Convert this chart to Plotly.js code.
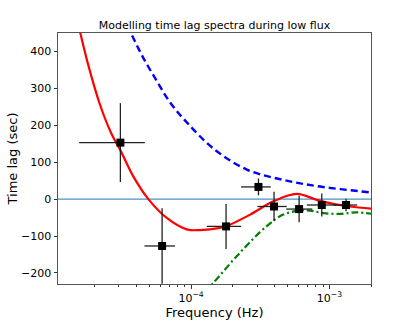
<!DOCTYPE html>
<html>
<head>
<meta charset="utf-8">
<script src="https://cdn.plot.ly/plotly-3.0.1.min.js"></script>
<style>
  html, body { margin: 0; padding: 0; background: white; }
  #plot { width: 413px; height: 331px; }
</style>
</head>
<body>
<div id="plot"></div>
<script>
/* Time lag spectrum, low flux, with model curves */

// observed lags
const freq = [3.08e-5, 6.17e-5, 1.79e-4, 3.07e-4, 3.98e-4, 6.04e-4, 8.81e-4, 1.32e-3];
const freqLo = [1.55e-5, 4.6e-5, 1.30e-4, 2.30e-4, 3.02e-4, 4.87e-4, 6.87e-4, 1.07e-3];
const freqHi = [4.63e-5, 7.66e-5, 2.30e-4, 3.77e-4, 4.92e-4, 7.53e-4, 1.13e-3, 1.59e-3];
const lag = [153, -127, -74, 33, -20, -27, -16, -16];
const lagErr = [107, 102, 61, 23, 40, 36, 31, 17];

// total model (red)
const modelFreq = [1.48e-5, 1.592e-5, 1.799e-5, 2.188e-5, 2.655e-5, 3.083e-5, 3.828e-5, 4.909e-5, 6.668e-5,
  9.311e-5, 1.161e-4, 1.622e-4, 1.811e-4, 2.673e-4, 3.936e-4, 5.808e-4, 8.110e-4, 1.069e-3, 1.413e-3, 2.028e-3];
const modelLag = [495, 445, 365, 257, 177, 132, 61, 0, -51,
  -82, -84, -78, -73, -42, -6, 14, -2, -13, -20, -26];

// hard lag component (blue dashed)
const hardFreq = [3.467e-5, 3.724e-5, 4.519e-5, 5.649e-5, 7.047e-5, 9.311e-5, 1.449e-4, 2.529e-4, 4.645e-4, 8.570e-4, 1.968e-3, 2.05e-3];
const hardLag = [470, 445, 382, 320, 262, 208, 137, 80, 52, 34, 18, 17];

// reverberation component (green dash-dot)
const revFreq = [1.259e-4, 1.449e-4, 2.259e-4, 3.524e-4, 4.645e-4, 6.138e-4, 7.244e-4, 9.057e-4, 1.194e-3, 1.578e-3, 2.028e-3];
const revLag = [-253, -227, -145, -73, -42, -31, -31, -38, -40, -36, -40];

const xTickVals = [1e-4, 1e-3];
const xTickText = ['10<sup>\u22124</sup>', '10<sup>\u22123</sup>'];
const yTickVals = [-200, -100, 0, 100, 200, 300, 400];
const yTickText = ['\u2212200', '\u2212100', '0', '100', '200', '300', '400'];

let minorVals = [];
for (let e = -5; e <= -3; e++) {
  for (let m = 2; m <= 9; m++) {
    minorVals.push(m * Math.pow(10, e));
  }
}

const xMin = 1.09e-5, xMax = 2.0e-3;

const errPlus = freq.map((f, i) => freqHi[i] - f);
const errMinus = freq.map((f, i) => f - freqLo[i]);

let data = [
  {
    x: [xMin, xMax], y: [0, 0],
    mode: 'lines', line: {color: '#1f77b4', width: 1},
    hoverinfo: 'skip'
  },
  {
    x: modelFreq, y: modelLag,
    mode: 'lines', line: {color: 'red', width: 2.2, shape: 'spline'}
  },
  {
    x: hardFreq, y: hardLag,
    mode: 'lines', line: {color: 'blue', width: 2.4, dash: '7px,4px', shape: 'spline'}
  },
  {
    x: revFreq, y: revLag,
    mode: 'lines', line: {color: 'green', width: 2.2, dash: '7px,3px,2px,3px', shape: 'spline'}
  },
  {
    x: freq, y: lag,
    mode: 'markers',
    marker: {symbol: 'square', size: 8, color: 'black'},
    error_x: {type: 'data', array: errPlus, arrayminus: errMinus, color: '#222', thickness: 1.3, width: 0},
    error_y: {type: 'data', array: lagErr, color: '#222', thickness: 1.3, width: 0}
  }
];

let layout = {
  width: 413,
  height: 331,
  showlegend: false,
  paper_bgcolor: 'white',
  plot_bgcolor: 'white',
  font: {family: 'DejaVu Sans', color: 'black', size: 11},
  margin: {l: 58, r: 42, t: 33, b: 47},
  title: {
    text: 'Modelling time lag spectra during low flux',
    font: {size: 11},
    x: 0.5, xref: 'paper',
    y: 1 - 25 / 331, yref: 'container', yanchor: 'middle'
  },
  xaxis: {
    type: 'log',
    range: [Math.log10(xMin), Math.log10(xMax)],
    tickmode: 'array', tickvals: xTickVals, ticktext: xTickText,
    ticks: 'outside', ticklen: 3.5, tickwidth: 1, tickcolor: '#333',
    tickfont: {size: 11},
    minor: {tickmode: 'array', tickvals: minorVals, ticks: 'outside', ticklen: 2, tickcolor: '#333', showgrid: false},
    showgrid: false, zeroline: false,
    showline: true, mirror: true, linecolor: '#555', linewidth: 1,
    title: {text: 'Frequency (Hz)', font: {size: 13}, standoff: 2}
  },
  yaxis: {
    range: [-230, 450],
    tickmode: 'array', tickvals: yTickVals, ticktext: yTickText,
    ticks: 'outside', ticklen: 3.5, tickwidth: 1, tickcolor: '#333',
    tickfont: {size: 11},
    showgrid: false, zeroline: false,
    showline: true, mirror: true, linecolor: '#555', linewidth: 1,
    title: {text: 'Time lag (sec)', font: {size: 13}, standoff: 0}
  }
};

Plotly.newPlot('plot', data, layout, {displayModeBar: false, staticPlot: true});
</script>
</body>
</html>
